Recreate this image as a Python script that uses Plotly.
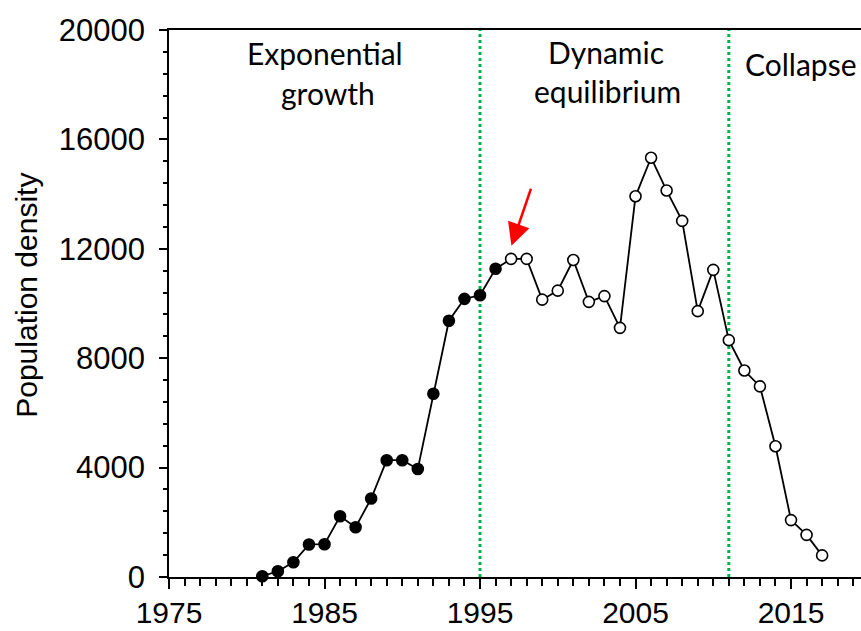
import plotly.graph_objects as go

years = list(range(1981, 2018))
density = [30, 210, 540, 1190, 1200, 2220, 1820, 2870, 4270, 4270, 3950, 6700,
           9370, 10170, 10300, 11270, 11630, 11630, 10140, 10470, 11590, 10060,
           10270, 9110, 13920, 15330, 14130, 13020, 9720, 11230, 8660, 7550,
           6970, 4780, 2080, 1540, 790]
last_filled_year = 1996
phase_breaks = [1995, 2011]
phase_labels = [("Exponential", 1985.0, 53), ("growth", 1985.2, 93),
                ("Dynamic", 2003.1, 52), ("equilibrium", 2003.2, 91),
                ("Collapse", 2015.6, 64)]
x_ticks = [1975, 1985, 1995, 2005, 2015]
y_ticks = [0, 4000, 8000, 12000, 16000, 20000]
y_title = "Population density"
arrow_tip = (1997.02, 12110)
arrow_tail = (1998.31, 14250)

marker_colors = ["black" if y <= last_filled_year else "white" for y in years]

W, H = 861, 631
L, T, B = 169, 30, 577.5
plot_w = W - L

def ypix_to_val(py):
    return (B - py) / (B - T) * 20000

fig = go.Figure()
fig.add_trace(go.Scatter(
    x=years, y=density, mode="lines+markers",
    line=dict(color="black", width=1.8),
    marker=dict(size=11, color=marker_colors, line=dict(color="black", width=1.6)),
    cliponaxis=False, showlegend=False,
))

for xb in phase_breaks:
    fig.add_shape(type="line", x0=xb, x1=xb, y0=0, y1=20000, xref="x", yref="y",
                  line=dict(color="#00B050", width=3, dash="dot"), layer="below")

for txt, xv, py in phase_labels:
    fig.add_annotation(x=xv, y=ypix_to_val(py), xref="x", yref="y", text=txt,
                       showarrow=False, xanchor="center", yanchor="middle",
                       font=dict(family="Lato", size=30, color="black"))

fig.add_annotation(x=arrow_tip[0], y=arrow_tip[1], ax=arrow_tail[0], ay=arrow_tail[1],
                   xref="x", yref="y", axref="x", ayref="y", text="",
                   showarrow=True, arrowhead=2, arrowsize=1.8, arrowwidth=2.5,
                   arrowcolor="#FF0000", standoff=0)

fig.add_annotation(x=(27 - L) / plot_w, y=ypix_to_val(296) / 20000,
                   xref="paper", yref="paper", text=y_title, textangle=-90,
                   showarrow=False, xanchor="center", yanchor="middle",
                   font=dict(family="Liberation Sans", size=30, color="black"))

fig.update_xaxes(range=[1975, 2019.5], tickmode="array", tickvals=x_ticks,
                 ticktext=[str(t) for t in x_ticks],
                 ticks="outside", ticklen=10, tickwidth=1.5, tickcolor="black",
                 minor=dict(dtick=1, tick0=1975, ticks="outside", ticklen=7,
                            tickwidth=1.5, tickcolor="black"),
                 showline=True, linecolor="black", linewidth=1.8, mirror=True,
                 showgrid=False, zeroline=False, automargin=False,
                 ticklabelstandoff=-2,
                 tickfont=dict(family="Liberation Sans", size=30, color="black"))
fig.update_yaxes(range=[0, 20000], tickmode="array", tickvals=y_ticks,
                 ticktext=[str(t) for t in y_ticks],
                 ticks="outside", ticklen=8, tickwidth=1.5, tickcolor="black",
                 minor=dict(dtick=800, tick0=0, ticks="outside", ticklen=4,
                            tickwidth=1.5, tickcolor="black"),
                 showline=True, linecolor="black", linewidth=1.8,
                 showgrid=False, zeroline=False, ticklabelstandoff=8, automargin=False,
                 tickfont=dict(family="Liberation Sans", size=31, color="black"))

fig.update_layout(width=W, height=H, plot_bgcolor="white", paper_bgcolor="white",
                  margin=dict(l=L, r=0, t=T, b=H - B, autoexpand=False), showlegend=False)

fig.write_html("out.html", config={"displayModeBar": False},
               post_script="document.body.style.margin='0';document.body.style.overflow='hidden';")
